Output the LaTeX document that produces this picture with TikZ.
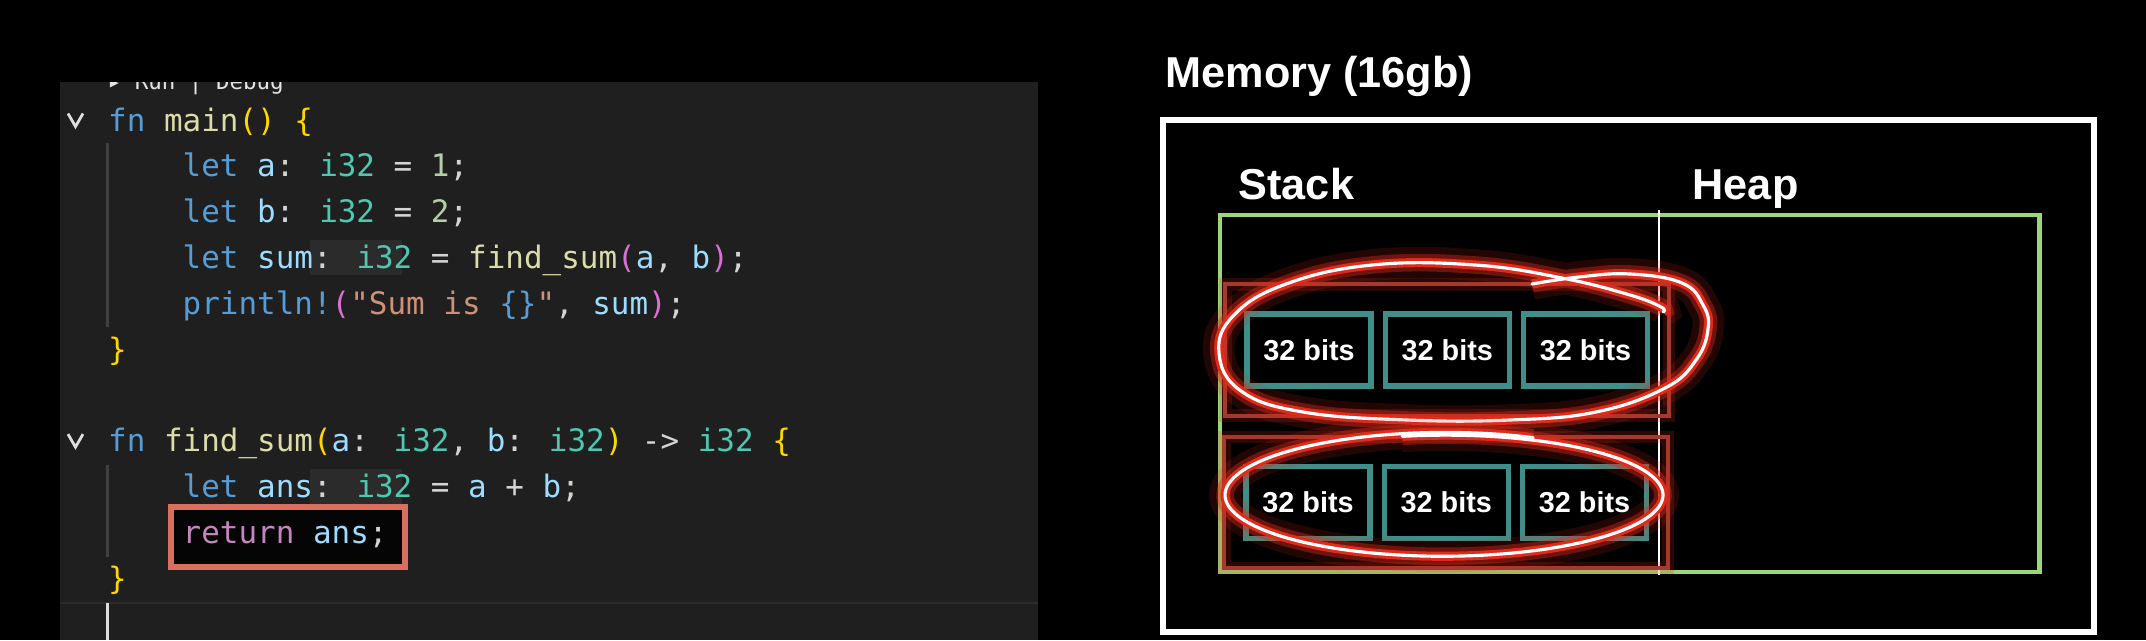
\documentclass[tikz,border=0pt]{standalone}
\usepackage{fontspec}
\usepackage{xcolor}
\newfontfamily\codefont{DejaVu Sans Mono}
\newfontfamily\labelfont{Liberation Sans}
\definecolor{vsbg}{HTML}{1F1F1F}
\definecolor{vsguide}{HTML}{404040}
\definecolor{vskw}{HTML}{569CD6}
\definecolor{vsfn}{HTML}{DCDCAA}
\definecolor{vsvar}{HTML}{9CDCFE}
\definecolor{vstype}{HTML}{4EC9B0}
\definecolor{vstext}{HTML}{D4D4D4}
\definecolor{vsnum}{HTML}{B5CEA8}
\definecolor{vsstr}{HTML}{CE9178}
\definecolor{vsgold}{HTML}{FFD700}
\definecolor{vsmag}{HTML}{DA70D6}
\definecolor{vsctl}{HTML}{C586C0}
\definecolor{vshint}{HTML}{2B2B2B}
\definecolor{vsmark}{HTML}{D9705F}
\definecolor{memgreen}{HTML}{9CD67A}
\definecolor{memteal}{HTML}{3E8E89}
\definecolor{memred}{HTML}{A33A2C}
\definecolor{glowred}{HTML}{E02A1A}
\newcommand{\ckw}[1]{\textcolor{vskw}{#1}}
\newcommand{\cfn}[1]{\textcolor{vsfn}{#1}}
\newcommand{\cvar}[1]{\textcolor{vsvar}{#1}}
\newcommand{\ctype}[1]{\textcolor{vstype}{#1}}
\newcommand{\cnum}[1]{\textcolor{vsnum}{#1}}
\newcommand{\cstr}[1]{\textcolor{vsstr}{#1}}
\newcommand{\cgold}[1]{\textcolor{vsgold}{#1}}
\newcommand{\cmag}[1]{\textcolor{vsmag}{#1}}
\newcommand{\cctl}[1]{\textcolor{vsctl}{#1}}
\usetikzlibrary{positioning, fit}

\begin{document}
\begin{tikzpicture}[
    every node/.style={inner sep=0pt},
    codeline/.style={anchor=base west, text=vstext,
        font=\codefont\fontsize{8.8}{10}\selectfont},
    heading/.style={anchor=base west, text=white,
        font=\labelfont\bfseries\fontsize{12.3}{14}\selectfont},
    bitbox/.style={draw=memteal, line width=1.5pt,
        minimum width=1.24cm, minimum height=0.72cm, text=white,
        font=\labelfont\bfseries\fontsize{8.2}{10}\selectfont},
    stackframe/.style={draw=memred, line width=1.2pt,
        preaction={draw=glowred, line width=3.5pt, opacity=0.2},
        inner xsep=0.19cm, inner ysep=0.27cm},
    glowpen/.style={line cap=round, line join=round,
        preaction={draw=glowred, line width=9pt, opacity=0.15},
        preaction={draw=glowred, line width=5pt, opacity=0.4},
        preaction={draw=glowred, line width=2.6pt},
        draw=white, line width=0.9pt},
    chevron/.style={draw=vstext!80, line width=0.8pt},
    guide/.style={draw=vsguide, line width=0.6pt},
]
\useasboundingbox (0,0) rectangle (21.46,6.40);
\fill[black] (0,0) rectangle (21.46,6.40);

% ---- Editor panel ----
\fill[vsbg] (0.60,0) rectangle (10.38,5.58);
\draw[draw=vshint, line width=0.8pt] (0.60,0.37) -- (10.38,0.37);
\begin{scope}
  \clip (0.60,0) rectangle (10.38,5.58);
  \node[codeline, text=vstext!60, font=\codefont\fontsize{6.4}{8}\selectfont]
        (lens) at (1.07,5.51) {▸ Run | Debug};
\end{scope}

% ---- Inlay hints and marker ----
\fill[vshint] (3.10,4.00) rectangle (4.02,3.65);
\fill[vshint] (3.10,1.71) rectangle (4.02,1.36);
\draw[vsmark, line width=1.5pt, fill=black!85!vsbg] (1.71,1.33) rectangle (4.05,0.73);

% ---- Fold chevrons, guides, cursor ----
\draw[chevron] (0.68,5.265) -- (0.755,5.135) -- (0.83,5.265);
\draw[chevron] (0.68,2.059) -- (0.755,1.929) -- (0.83,2.059);
\draw[guide] (1.075,4.97) -- (1.075,3.13);
\draw[guide] (1.075,1.75) -- (1.075,0.83);
\draw[vstext!80, line width=0.8pt] (1.075,0.37) -- (1.075,0);

% ---- Code ----
\node[codeline] (l1) at (1.075,5.090) {\ckw{fn} \cfn{main}\cgold{()} \cgold{\{}};
\node[codeline] (l2) at (1.820,4.632) {\ckw{let} \cvar{a}: \ctype{i32} = \cnum{1};};
\node[codeline] (l3) at (1.820,4.174) {\ckw{let} \cvar{b}: \ctype{i32} = \cnum{2};};
\node[codeline] (l4) at (1.820,3.716) {\ckw{let} \cvar{sum}: \ctype{i32} = \cfn{find\_sum}\cmag{(}\cvar{a}, \cvar{b}\cmag{)};};
\node[codeline] (l5) at (1.820,3.258) {\ckw{println!}\cmag{(}\cstr{"Sum is }\ckw{\{\}}\cstr{"}, \cvar{sum}\cmag{)};};
\node[codeline] (l6) at (1.075,2.800) {\cgold{\}}};
\node[codeline] (l7) at (1.075,1.884) {\ckw{fn} \cfn{find\_sum}\cgold{(}\cvar{a}: \ctype{i32}, \cvar{b}: \ctype{i32}\cgold{)} -> \ctype{i32} \cgold{\{}};
\node[codeline] (l8) at (1.820,1.426) {\ckw{let} \cvar{ans}: \ctype{i32} = \cvar{a} + \cvar{b};};
\node[codeline] (l9) at (1.820,0.968) {\cctl{return} \cvar{ans};};
\node[codeline] (l10) at (1.075,0.510) {\cgold{\}}};

% ---- Memory ----
\node[heading] (memtitle) at (11.65,5.53) {Memory (16gb)};
\node[draw=white, line width=1.6pt, minimum width=9.31cm, minimum height=5.12cm]
      (mem) at (16.285,2.64) {};
\node[heading] (stacklbl) at (12.38,4.41) {Stack};
\node[heading] (heaplbl) at (16.92,4.41) {Heap};
\node[draw=memgreen, line width=1.4pt, minimum width=8.19cm, minimum height=3.57cm]
      (region) at (16.295,2.465) {};
\coordinate (divtop) at (16.59,4.30);
\coordinate (divbot) at (16.59,0.65);
\draw[white, line width=0.6pt] (divtop) -- (divbot);

% ---- Stack frames ----
\node[bitbox] (b11) at (13.09,2.90) {32 bits};
\node[bitbox, right=0.09cm of b11] (b12) {32 bits};
\node[bitbox, right=0.09cm of b12] (b13) {32 bits};
\node[bitbox] (b21) at (13.08,1.375) {32 bits};
\node[bitbox, right=0.09cm of b21] (b22) {32 bits};
\node[bitbox, right=0.09cm of b22] (b23) {32 bits};
\node[stackframe, fit=(b11)(b13)] (f1) {};
\node[stackframe, fit=(b21)(b23)] (f2) {};

% ---- Hand-drawn loops ----
\draw[glowpen] plot[smooth, tension=0.7] coordinates {
    (15.32,3.56) (15.79,3.63) (16.30,3.66) (16.82,3.57) (17.03,3.35)
    (17.08,3.11) (16.96,2.80) (16.65,2.52) (15.96,2.28) (15.10,2.20)
    (14.07,2.20) (13.03,2.28) (12.41,2.49) (12.19,2.87) (12.34,3.25)
    (12.86,3.56) (13.72,3.75) (14.75,3.75) (15.62,3.62) (16.30,3.45)
    (16.61,3.33) (16.63,3.28)};
\draw[glowpen, domain=66:461, samples=90, smooth, variable=\t]
    plot ({14.44+2.19*cos(\t)}, {1.45+(0.628-0.00008*(\t-66))*sin(\t)});

\end{tikzpicture}
\end{document}
